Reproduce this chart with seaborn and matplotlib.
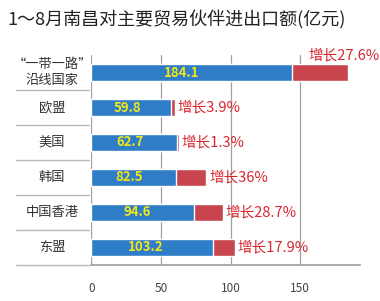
import matplotlib
matplotlib.use('Agg')

import matplotlib.pyplot as plt
import seaborn as sns
import pandas as pd

# data
categories = ["“一带一路”\n沿线国家", "欧盟", "美国", "韩国", "中国香港", "东盟"]
totals = [184.1, 59.8, 62.7, 82.5, 94.6, 103.2]
last_year = [144.3, 57.6, 61.9, 60.7, 73.5, 87.5]
growth = ["增长27.6%", "增长3.9%", "增长1.3%", "增长36%", "增长28.7%", "增长17.9%"]
xticks = [0, 50, 100, 150]

df = pd.DataFrame({"cat": categories, "total": totals, "base": last_year})

sns.set_theme(style="white")
plt.rcParams['font.family'] = ['Noto Sans CJK SC', 'DejaVu Sans']

fig = plt.figure(figsize=(3.8, 3.01), dpi=100)
ax = fig.add_axes([0.24, 0.12, 0.708, 0.697])

blue = "#2f7dc6"
red = "#c8454e"

sns.barplot(data=df, x="total", y="cat", color=red, orient="h", width=0.5,
            saturation=1, ax=ax)
sns.barplot(data=df, x="base", y="cat", color=blue, orient="h", width=0.5,
            saturation=1, ax=ax)

ax.set_xlim(0, 193)
ax.set_ylim(5.5, -0.5)
for v in xticks:
    ax.axvline(v, color="#a0a0a0", lw=0.9, zorder=0)

for s in ["top", "right", "left"]:
    ax.spines[s].set_visible(False)
ax.spines["bottom"].set_color("#a0a0a0")
ax.set_xticks(xticks)
ax.set_xticklabels([str(t) for t in xticks], fontsize=8.5, color="#444444")
ax.tick_params(axis="x", length=0, pad=12)
ax.set_yticks([])
ax.set_xlabel("")
ax.set_ylabel("")

# row separators on the left
for i in range(6):
    ax.plot([-0.28, -0.01], [i + 0.5, i + 0.5], transform=ax.get_yaxis_transform(),
            color="#b8b8b8", lw=1, clip_on=False)

for i, (cat, tot, base, g) in enumerate(zip(categories, totals, last_year, growth)):
    ax.text(-0.145, i, cat, transform=ax.get_yaxis_transform(), ha="center",
            va="center", fontsize=9.5, color="#333333", linespacing=1.25)
    ax.text(base * 0.45, i, f"{tot}", ha="center", va="center", fontsize=9.5,
            fontweight="bold", color="#f2e51c")
    if i == 0:
        ax.text(tot - 3, i - 0.3, g, ha="center", va="bottom", fontsize=10.5,
                color="#d8262e")
    else:
        ax.text(tot + 2, i, g, ha="left", va="center", fontsize=10.5,
                color="#d8262e")

fig.text(0.02, 0.935, "1～8月南昌对主要贸易伙伴进出口额(亿元)", fontsize=13,
         color="#222222", va="center", ha="left")

fig.savefig("out.png", dpi=100)
